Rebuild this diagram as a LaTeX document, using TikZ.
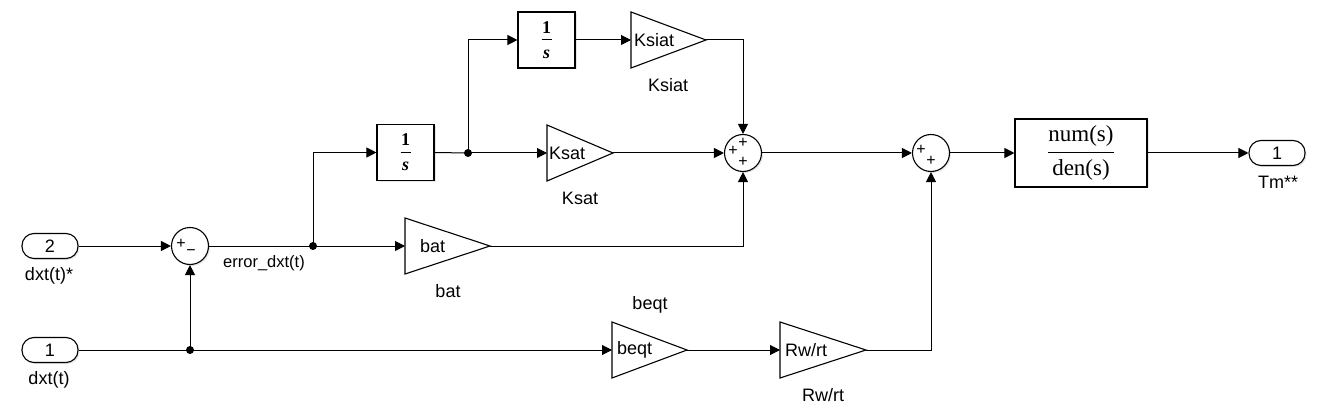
\documentclass[tikz,border=0pt]{standalone}
\usepackage{fontspec}
\setmainfont{Liberation Sans}
\newfontfamily\tnr{Liberation Serif}
\usetikzlibrary{arrows.meta,shadows}
\tikzset{
  conn/.style={line width=1pt, -{Triangle[length=10pt,width=10pt]}},
  wire/.style={line width=1pt},
  blk/.style={draw, line width=1.1pt, fill=white, drop shadow={shadow xshift=1.5pt,shadow yshift=-1.5pt,opacity=0.2}},
  port/.style={blk, rounded corners=12pt, minimum width=56pt, minimum height=25pt, inner sep=0pt, font=\fontsize{18}{20}\selectfont},
  sumc/.style={blk, circle, minimum size=37pt, inner sep=0pt},
  lbl/.style={font=\fontsize{18}{20}\selectfont, inner sep=0pt},
  sgn/.style={font=\fontsize{16}{16}\selectfont, inner sep=0pt},
  jdot/.style={circle, fill, inner sep=0pt, minimum size=8pt},
  gainshape/.style={line width=1.1pt, fill=white},
  fracnum/.style={font=\fontsize{18}{18}\selectfont\tnr\bfseries, inner sep=0pt},
}
% name, left x, centre y, apex x, half height, text x, text
\newcommand\gainblk[7]{%
  \draw[gainshape] (#2,#3-#5) -- (#4,#3) -- (#2,#3+#5) -- cycle;
  \coordinate (#1-in) at (#2,#3);
  \coordinate (#1-out) at (#4,#3);
  \node[lbl, anchor=west] (#1-txt) at (#6,#3) {#7};}
% integrator: name, centre x, centre y
\newcommand\intblk[3]{%
  \node[blk, minimum width=57pt, minimum height=56pt, inner sep=0pt] (#1) at (#2,#3) {};
  \node[fracnum] (#1-n) at ([yshift=12.5pt]#1.center) {1};
  \draw[line width=0.9pt] ([xshift=-5pt,yshift=0.5pt]#1.center) -- ([xshift=5pt,yshift=0.5pt]#1.center);
  \node[fracnum, font=\fontsize{18}{18}\selectfont\tnr\bfseries\itshape] (#1-d) at ([yshift=-14pt]#1.center) {s};}
\begin{document}
\begin{tikzpicture}[x=1pt,y=-1pt]
\useasboundingbox (0,0) rectangle (1327,414);
% ports
\node[port] (in2) at (50,246) {2};
\node[lbl] (in2-l) at (49,276) {dxt(t)*};
\node[port] (in1) at (50,350) {1};
\node[lbl] (in1-l) at (49,380) {dxt(t)};
\node[port] (out) at (1277,153) {1};
\node[lbl] (out-l) at (1278,182) {Tm**};
% sums
\node[sumc] (sum1) at (190,246) {};
\node[sgn] (s1a) at (181,244) {+};
\node[sgn] (s1b) at (191,253) {−};
\node[sumc] (sum2) at (743,153) {};
\node[sgn] (s2a) at (733,151) {+};
\node[sgn] (s2b) at (743,143) {+};
\node[sgn] (s2c) at (743,162) {+};
\node[sumc] (sum3) at (931,153) {};
\node[sgn] (s3a) at (921,150) {+};
\node[sgn] (s3b) at (931,161) {+};
% integrators
\intblk{int1}{405.5}{152.5}
\intblk{int2}{546.5}{40}
% transfer function
\node[blk, minimum width=132pt, minimum height=68pt, inner sep=0pt] (tf) at (1081,153)
  {\fontsize{23}{25}\selectfont$\displaystyle\frac{\mbox{\tnr num(s)}}{\mbox{\tnr den(s)}}$};
% gains
\gainblk{ksiat}{631}{40}{706}{28}{634}{Ksiat}
\node[lbl] (ksiat-l) at (668,85) {Ksiat};
\gainblk{ksat}{547}{153}{613}{28}{549}{Ksat}
\node[lbl] (ksat-l) at (580,198) {Ksat};
\gainblk{bat}{405}{246}{490}{28}{420}{bat}
\node[lbl] (bat-l) at (448,291) {bat};
\gainblk{beqt}{612}{350}{687}{28}{617}{beqt}
\node[lbl] (beqt-l) at (650,305) {beqt};
\gainblk{rw}{780}{350}{866}{28}{785}{Rw/rt}
\node[lbl] (rw-l) at (823,395) {Rw/rt};
% error label
\node[font=\fontsize{16.5}{18}\selectfont, inner sep=0pt] (err) at (264,263) {error\_dxt(t)};
% junctions
\coordinate (j1) at (313,246);
\coordinate (j2) at (468,153);
\coordinate (j3) at (190,350);
\node[jdot] (j1d) at (j1) {};
\node[jdot] (j2d) at (j2) {};
\node[jdot] (j3d) at (j3) {};
% connectors
\draw[conn] (in2.east) -- (sum1.west);
\draw[wire] (in1.east) -- (j3);
\draw[conn] (j3) -- (sum1.south);
\draw[conn] (j3) -- (beqt-in);
\draw[wire] (sum1.east) -- (j1);
\draw[conn] (j1) -- (bat-in);
\draw[conn] (j1) |- (int1.west);
\draw[wire] (int1.east) -- (j2);
\draw[conn] (j2) -- (ksat-in);
\draw[conn] (j2) |- (int2.west);
\draw[conn] (int2.east) -- (ksiat-in);
\draw[conn] (ksiat-out) -| (sum2.north);
\draw[conn] (ksat-out) -- (sum2.west);
\draw[conn] (bat-out) -| (sum2.south);
\draw[conn] (sum2.east) -- (sum3.west);
\draw[conn] (beqt-out) -- (rw-in);
\draw[conn] (rw-out) -| (sum3.south);
\draw[conn] (sum3.east) -- (tf.west);
\draw[conn] (tf.east) -- (out.west);
\end{tikzpicture}
\end{document}
